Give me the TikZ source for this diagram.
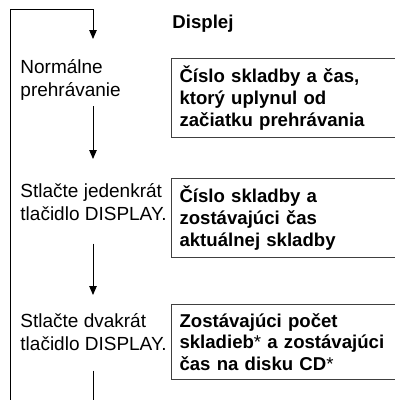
\documentclass[tikz,border=0pt]{standalone}
\usepackage{fontspec}
\setmainfont{Liberation Sans}
\usetikzlibrary{arrows.meta}
\begin{document}
\begin{tikzpicture}[x=1pt,y=-1pt,>={Triangle[width=7.5pt,length=9pt]},line width=0.9pt,
  action node/.style={anchor=north west,inner sep=0pt,align=left,font=\fontsize{19}{23.5}\selectfont},
  info box/.style={draw=black!75,line width=1.1pt,anchor=north west,minimum height=79pt,text width=225pt,inner xsep=8pt,inner ysep=0pt,align=left,font=\fontsize{18.6}{21.8}\selectfont\bfseries}]
  \useasboundingbox (0,0) rectangle (395,400);

  \node[font=\fontsize{18.6}{22}\selectfont\bfseries,anchor=base west,inner sep=0pt] (head) at (172,28) {Displej};

  \node[action node] (normal) at (20,59) {Normálne\\prehrávanie};
  \node[action node] (once) at (20,183) {Stlačte jedenkrát\\tlačidlo DISPLAY.};
  \node[action node] (twice) at (20,313) {Stlačte dvakrát\\tlačidlo DISPLAY.};

  \node[info box] (show1) at (171,58) {Číslo skladby a čas,\\ktorý uplynul od\\začiatku prehrávania};
  \node[info box] (show2) at (171,178) {Číslo skladby a\\zostávajúci čas\\aktuálnej skladby};
  \node[info box,minimum height=75pt] (show3) at (171,304) {Zostávajúci počet\\skladieb\textmd{*} a zostávajúci\\čas na disku CD\textmd{*}};

  \coordinate (entry) at (10,400);
  \coordinate (turn) at (93,9);
  \coordinate (exit) at (93,400);

  \draw[->,shorten >=20pt] (entry) |- (turn) -- (normal.north -| turn);
  \path[->]
    (normal.south -| turn) edge[shorten <=5pt,shorten >=24pt] (once.north -| turn)
    (once.south -| turn) edge[shorten <=22pt,shorten >=18pt] (twice.north -| turn);
  \draw[shorten <=19pt] (twice.south -| turn) -- (exit);
\end{tikzpicture}
\end{document}
